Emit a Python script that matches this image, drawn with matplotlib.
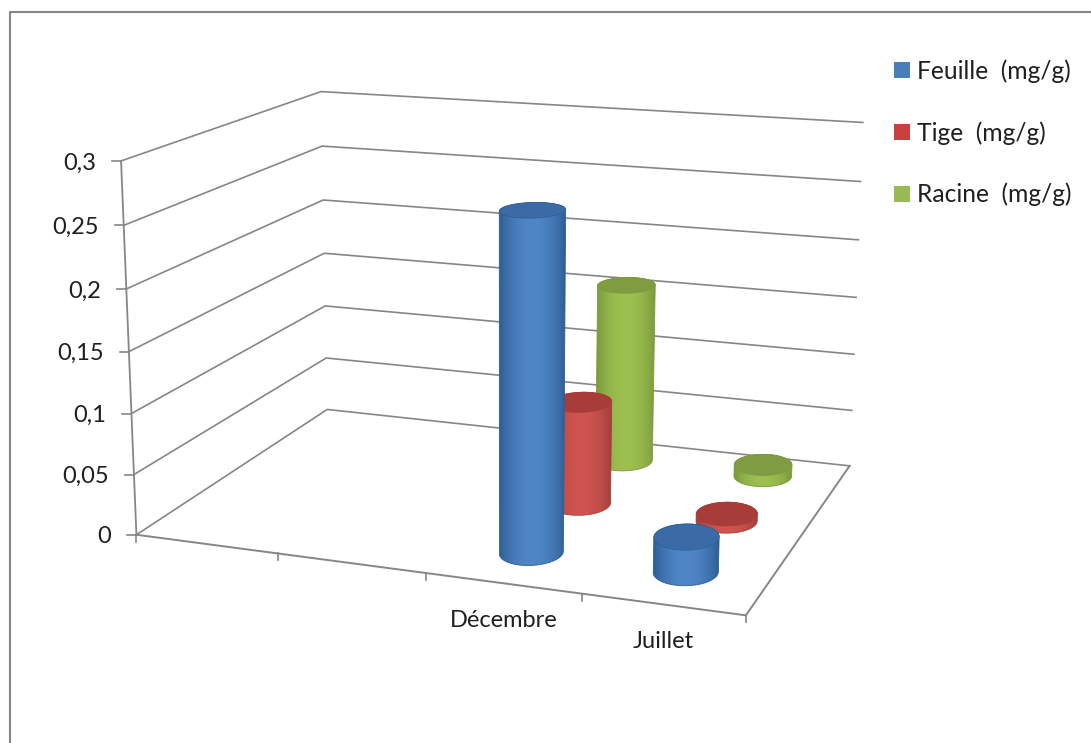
import matplotlib
matplotlib.use("Agg")
import matplotlib.pyplot as plt
import numpy as np
from matplotlib.patches import Patch, Polygon

plt.rcParams["font.family"] = ["Lato", "DejaVu Sans"]

categories = ["", "", "Décembre", "Juillet"]
series = ["Feuille  (mg/g)", "Tige  (mg/g)", "Racine  (mg/g)"]
feuille = [np.nan, np.nan, 0.27, 0.028]
tige = [np.nan, np.nan, 0.087, 0.006]
racine = [np.nan, np.nan, 0.157, 0.01]
y_ticks = [0, 0.05, 0.1, 0.15, 0.2, 0.25, 0.3]
y_labels = ["0", "0,05", "0,1", "0,15", "0,2", "0,25", "0,3"]

# body centre, body edge, top face
COLORS = [
    ("#4F86C6", "#2F5E96", "#3A6BA6"),
    ("#D0544F", "#A33F3B", "#A83C39"),
    ("#9DC050", "#7A9A3C", "#7F9C42"),
]
LEGEND_COLORS = ["#4A7EBB", "#C8413E", "#98B954"]
AXIS = "#868686"
TEXT = "#1F1F1F"

# Anchor points for the 3D box: (category, depth, value) -> figure pixels
WORLD = np.array([
    (0, 0, 0), (1, 0, 0), (2, 0, 0), (3, 0, 0), (4, 0, 0),
    (4, 3, 0), (0, 3, 0),
    (0, 0, 0.3), (0, 3, 0.3), (4, 3, 0.3),
    (0, 0, 0.15), (0, 3, 0.15), (4, 3, 0.15),
])
SCREEN = np.array([
    (137, 534), (279, 553), (427, 575), (582, 598), (745, 612),
    (849, 465), (327, 409),
    (122, 161), (321, 92), (862, 122),
    (127, 350), (324, 254), (858, 298),
])


def fit_camera(world, screen):
    rows, rhs = [], []
    for (x, d, z), (u, v) in zip(world, screen):
        rows.append([x, d, z, 1, 0, 0, 0, 0, -u * x, -u * d, -u * z])
        rows.append([0, 0, 0, 0, x, d, z, 1, -v * x, -v * d, -v * z])
        rhs += [u, v]
    p = np.linalg.lstsq(np.array(rows, float), np.array(rhs, float), rcond=None)[0]
    return np.append(p, 1).reshape(3, 4)


CAM = fit_camera(WORLD, SCREEN)


def project(x, d, z):
    x, d, z = np.broadcast_arrays(x, d, z)
    pts = np.stack([x, d, z, np.ones_like(x, dtype=float)], axis=-1) @ CAM.T
    return pts[..., :2] / pts[..., 2:]


def convex_hull(points):
    pts = sorted(map(tuple, points))

    def half(seq):
        out = []
        for p in seq:
            while len(out) > 1 and np.cross(np.subtract(out[-1], out[-2]),
                                            np.subtract(p, out[-1])) <= 0:
                out.pop()
            out.append(p)
        return out[:-1]

    return np.array(half(pts) + half(pts[::-1]))


def draw_cylinder(ax, cx, cd, value, colors, zorder):
    rx, rd = 0.195, 0.24
    theta = np.linspace(0, 2 * np.pi, 181)
    xs = cx + rx * np.cos(theta)
    ds = cd + rd * np.sin(theta)
    base = project(xs, ds, 0.0)
    top = project(xs, ds, value)

    # Side of the cylinder: left-to-right gradient clipped to the outline
    outline = convex_hull(np.vstack([base, top]))
    left, right = outline[:, 0].min(), outline[:, 0].max()
    t = np.linspace(0, 1, 64)
    shade = (1 - np.abs(2 * t - 1) ** 2.0)[None, :, None]
    centre = np.array(matplotlib.colors.to_rgb(colors[0]))
    rim = np.array(matplotlib.colors.to_rgb(colors[1]))
    gradient = rim + (centre - rim) * shade
    img = ax.imshow(gradient, extent=(left, right, outline[:, 1].max(), outline[:, 1].min()),
                    aspect="auto", interpolation="bilinear", zorder=zorder)
    clip = Polygon(outline, closed=True, transform=ax.transData)
    img.set_clip_path(clip)
    ax.add_patch(Polygon(outline, closed=True, facecolor="none", edgecolor=colors[1],
                         linewidth=0.6, zorder=zorder + 0.05))
    ax.add_patch(Polygon(top, closed=True, facecolor=colors[2],
                         edgecolor=colors[1], linewidth=0.5, zorder=zorder + 0.1))


fig = plt.figure(figsize=(10.91, 7.43), dpi=100, facecolor="white")
ax = fig.add_axes([0, 0, 1, 1])
ax.axis("off")

# Chart area border, cut off on the right and at the bottom
ax.plot([9.5, 9.5, 1091], [743, 12, 12], color=AXIS, lw=1.5, zorder=1)

# Walls
for z in y_ticks:
    pts = project(np.array([0.0, 0.0, 4.0]), np.array([0.0, 3.0, 3.0]), z)
    ax.plot(pts[:, 0], pts[:, 1], color=AXIS, lw=1.2, zorder=2)

# Floor and value axis
floor = project(np.array([0.0, 4.0, 4.0]), np.array([0.0, 0.0, 3.0]), 0.0)
ax.plot(floor[:, 0], floor[:, 1], color=AXIS, lw=1.4, zorder=2)
edge = project(0.0, 0.0, np.array([0.0, 0.3]))
ax.plot(edge[:, 0], edge[:, 1], color=AXIS, lw=1.3, zorder=2)

for z, label in zip(y_ticks, y_labels):
    u, v = project(0.0, 0.0, z)
    ax.plot([u - 9, u], [v, v], color=AXIS, lw=1.2, zorder=2)
    ax.text(u - 25, v + 2, label, ha="right", va="center", fontsize=17, color=TEXT)

for i in range(len(categories) + 1):
    u, v = project(float(i), 0.0, 0.0)
    ax.plot([u, u], [v, v + 7], color=AXIS, lw=1.2, zorder=2)

for i, label in enumerate(categories):
    u, v = project(i + 0.5, 0.0, 0.0)
    ax.text(u, v + 37, label, ha="center", va="center", fontsize=17, color=TEXT)

# Cylinders, back row first so the front ones overlap them
rows = [feuille, tige, racine]
zorder = 10
for s in reversed(range(len(rows))):
    for i in range(len(categories)):
        value = rows[s][i]
        if np.isnan(value):
            continue
        draw_cylinder(ax, i + 0.482, s + 0.57, value, COLORS[s], zorder)
        zorder += 1

# imshow resets the limits, so the pixel frame goes on last
ax.set_xlim(0, 1091)
ax.set_ylim(743, 0)

handles = [Patch(facecolor=c, edgecolor="none") for c in LEGEND_COLORS]
ax.legend(handles, series, loc="upper left", bbox_to_anchor=(894 / 1091, 1 - 59 / 743),
          frameon=False, fontsize=17.7, labelcolor=TEXT, handlelength=0.65, handleheight=0.62,
          handletextpad=0.28, labelspacing=1.56, borderpad=0, borderaxespad=0)

fig.savefig("out.png", dpi=100, facecolor="white")
